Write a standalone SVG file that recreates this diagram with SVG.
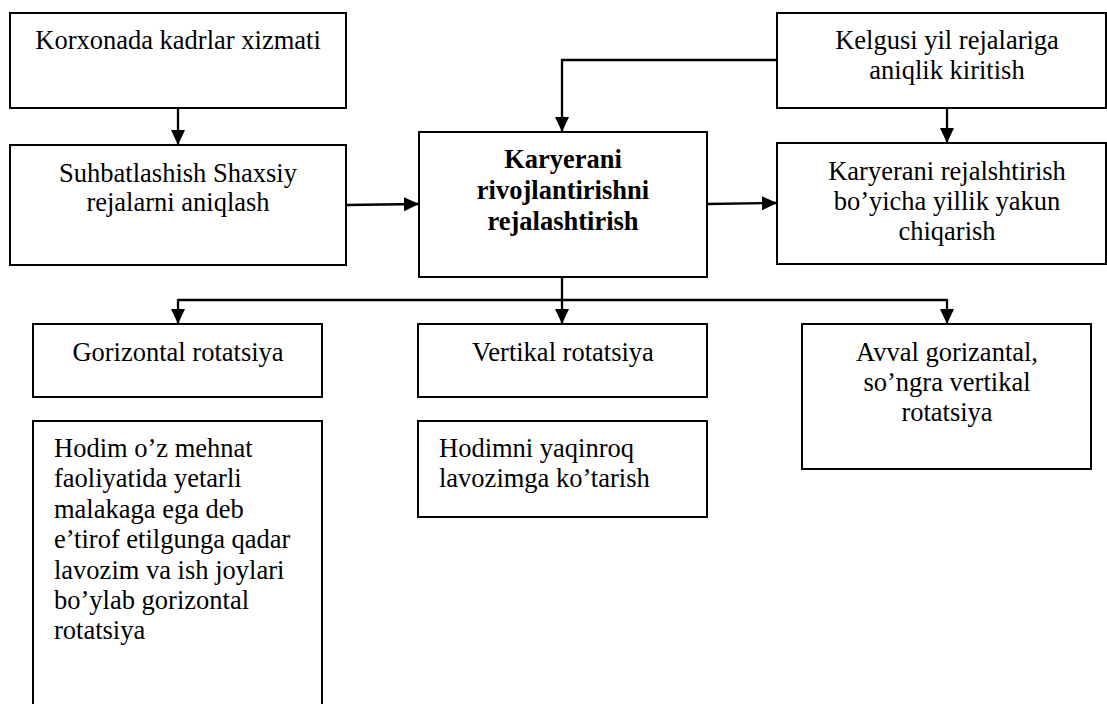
<svg xmlns="http://www.w3.org/2000/svg" width="1107" height="704" viewBox="0 0 1107 704">
<style>
  .box { fill: #fff; stroke: #000; stroke-width: 2; }
  .t { font-family: "Liberation Serif", "Times New Roman", serif; font-size: 26.5px; fill: #000; }
  .c { text-anchor: middle; }
  .b { font-weight: bold; }
  .conn { fill: none; stroke: #000; stroke-width: 2.3; }
</style>
<defs>
  <marker id="arr" markerUnits="userSpaceOnUse" markerWidth="16" markerHeight="16" viewBox="0 0 16 16" refX="15" refY="8" orient="auto">
    <path d="M0,1 L15,8 L0,15 Z" fill="#000"/>
  </marker>
</defs>
<rect width="1107" height="704" fill="#fff"/>

<g id="connectors">
  <line class="conn" x1="178" y1="108" x2="178" y2="145" marker-end="url(#arr)"/>
  <line class="conn" x1="346" y1="205" x2="419" y2="204" marker-end="url(#arr)"/>
  <polyline class="conn" points="777,60 562,60 562,132" marker-end="url(#arr)"/>
  <line class="conn" x1="947" y1="108" x2="947" y2="143" marker-end="url(#arr)"/>
  <line class="conn" x1="707" y1="204" x2="777" y2="203" marker-end="url(#arr)"/>
  <line class="conn" x1="562" y1="277" x2="562" y2="300"/>
  <line class="conn" x1="178" y1="300" x2="947" y2="300"/>
  <line class="conn" x1="178" y1="299" x2="178" y2="324" marker-end="url(#arr)"/>
  <line class="conn" x1="562" y1="299" x2="562" y2="324" marker-end="url(#arr)"/>
  <line class="conn" x1="947" y1="299" x2="947" y2="324" marker-end="url(#arr)"/>
</g>

<g id="korxonada">
  <rect class="box" x="10" y="13" width="336" height="95"/>
  <text class="t c" x="178" y="49">Korxonada kadrlar xizmati</text>
</g>

<g id="suhbatlashish">
  <rect class="box" x="10" y="145" width="336" height="120"/>
  <text class="t c" x="178" y="182">Suhbatlashish Shaxsiy</text>
  <text class="t c" x="178" y="211">rejalarni aniqlash</text>
</g>

<g id="markaz">
  <rect class="box" x="419" y="132" width="288" height="145"/>
  <text class="t c b" x="563" y="168">Karyerani</text>
  <text class="t c b" x="563" y="199">rivojlantirishni</text>
  <text class="t c b" x="563" y="230">rejalashtirish</text>
</g>

<g id="kelgusi">
  <rect class="box" x="777" y="13" width="329" height="95"/>
  <text class="t c" x="947" y="49">Kelgusi yil rejalariga</text>
  <text class="t c" x="947" y="79">aniqlik kiritish</text>
</g>

<g id="yakun">
  <rect class="box" x="777" y="143" width="329" height="121"/>
  <text class="t c" x="947" y="180">Karyerani rejalshtirish</text>
  <text class="t c" x="947" y="210">bo’yicha yillik yakun</text>
  <text class="t c" x="947" y="240">chiqarish</text>
</g>

<g id="gorizontal">
  <rect class="box" x="33" y="324" width="289" height="73"/>
  <text class="t c" x="178" y="361">Gorizontal rotatsiya</text>
</g>

<g id="vertikal">
  <rect class="box" x="418" y="324" width="289" height="73"/>
  <text class="t c" x="563" y="361">Vertikal rotatsiya</text>
</g>

<g id="avval">
  <rect class="box" x="802" y="324" width="289" height="145"/>
  <text class="t c" x="947" y="361">Avval gorizantal,</text>
  <text class="t c" x="947" y="391">so’ngra vertikal</text>
  <text class="t c" x="947" y="421">rotatsiya</text>
</g>

<g id="hodim">
  <rect class="box" x="33" y="421" width="289" height="300"/>
  <text class="t" x="54" y="457">Hodim o’z mehnat</text>
  <text class="t" x="54" y="487.4">faoliyatida yetarli</text>
  <text class="t" x="54" y="517.8">malakaga ega deb</text>
  <text class="t" x="54" y="548.2">e’tirof etilgunga qadar</text>
  <text class="t" x="54" y="578.6">lavozim va ish joylari</text>
  <text class="t" x="54" y="609">bo’ylab gorizontal</text>
  <text class="t" x="54" y="639.4">rotatsiya</text>
</g>

<g id="hodimni">
  <rect class="box" x="418" y="421" width="289" height="96"/>
  <text class="t" x="439" y="457">Hodimni yaqinroq</text>
  <text class="t" x="439" y="487.4">lavozimga ko’tarish</text>
</g>
</svg>
